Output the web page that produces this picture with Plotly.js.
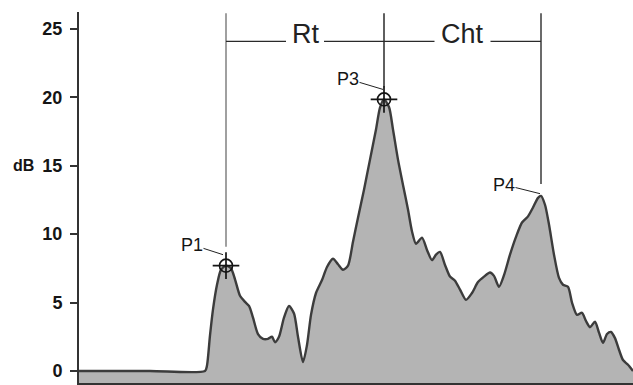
<!DOCTYPE html>
<html>
<head>
<meta charset="utf-8">
<script src="https://cdn.plot.ly/plotly-3.0.1.min.js"></script>
<style>
  html, body { margin: 0; padding: 0; background: #ffffff; }
  #chart { width: 633px; height: 385px; }
</style>
</head>
<body>
<div id="chart"></div>
<script>
// Envelope of the signal: time (ms) and level (dB)
const timeMs = [
  0, 35.5, 63, 64, 65.5, 67, 69, 71, 73.5, 76, 78, 80.5, 83, 85, 87, 89.5,
  92, 94.5, 96.5, 98, 100, 102.5, 105, 107.5, 109.5, 112, 114, 116, 118.5,
  121.5, 124, 127, 129.5, 132, 134.5, 137, 139.5, 142.5, 145.5, 148.5, 150.5,
  152.5, 155, 157, 159.5, 162, 164.5, 166.5, 168.5, 171.5, 174, 176.5, 178.5,
  180.5, 183, 185.5, 188, 190.5, 193.5, 196.5, 199.5, 202.5, 205.5, 207.5,
  210, 212.5, 215.5, 218.5, 221.5, 224.5, 227, 229.5, 231, 233, 235, 237.5,
  240, 242, 244.5, 246.5, 249, 251.5, 253.5, 255.5, 258, 260, 262, 264, 266,
  268, 270, 272, 274.5, 277
];
const levelDb = [
  0, 0, 0, 0.4, 2.6, 4.5, 6.3, 7.4, 7.7, 7.5, 6.7, 5.5, 5.05, 4.75, 3.9, 2.7,
  2.35, 2.35, 2.5, 2.1, 2.5, 3.9, 4.75, 4.2, 2.5, 0.65, 1.9, 4.1, 5.7,
  6.65, 7.6, 8.2, 7.8, 7.4, 7.7, 9.45, 11.2, 13.25, 15.45, 17.65, 19.25,
  19.85, 19.3, 17.65, 15.45, 13.6, 11.8, 10.2, 9.3, 9.75, 8.85, 8.1, 8.5,
  8.7, 7.75, 6.9, 6.6, 5.95, 5.2, 5.7, 6.5, 6.9, 7.2, 6.95,
  6.15, 7.0, 8.5, 9.8, 10.85, 11.3, 11.95, 12.65, 12.8, 12.15, 10.7, 8.5,
  6.8, 6.3, 6.15, 5.0, 4.1, 4.25, 3.65, 3.2, 3.6, 2.8, 2.05, 2.7, 2.85,
  2.4, 1.55, 0.8, 0.45, 0
];

// y-axis ticks
const tickValues = [0, 5, 10, 15, 20, 25];
const tickLabels = ['0', '5', '10', '15', '20', '25'];

// Marked peaks (time positions, looked up in the series)
const peakNames = ['P1', 'P3', 'P4'];
const peakTimes = [73.5, 152.5, 231];
const peakCrosshair = [true, true, false];

// Intervals between peaks
const spanNames = ['Rt', 'Cht'];
const spanFrom = ['P1', 'P3'];
const spanTo = ['P3', 'P4'];

function levelAt(t) {
  const i = timeMs.indexOf(t);
  return levelDb[i];
}
const peakLevels = peakTimes.map(levelAt);
const peakX = {};
peakNames.forEach((n, i) => { peakX[n] = peakTimes[i]; });

const lineCol = '#3c3c3c';
const inkCol = '#151515';
const fontFam = 'Liberation Sans, Arial, sans-serif';

// Floor under the filled area
const floorTrace = {
  x: [timeMs[0], timeMs[timeMs.length - 1]],
  y: [-5, -5],
  mode: 'lines',
  line: { width: 0 },
  hoverinfo: 'skip',
  showlegend: false
};

const envelopeTrace = {
  x: timeMs,
  y: levelDb,
  mode: 'lines',
  fill: 'tonexty',
  fillcolor: '#b4b4b4',
  line: { color: lineCol, width: 2.4, shape: 'spline', smoothing: 0.7 },
  showlegend: false
};

const crossX = peakTimes.filter((t, i) => peakCrosshair[i]);
const crossY = peakLevels.filter((v, i) => peakCrosshair[i]);

const ringTrace = {
  x: crossX, y: crossY, mode: 'markers',
  marker: { symbol: 'circle-open', size: 13, color: inkCol, line: { width: 1.7, color: inkCol } },
  showlegend: false, hoverinfo: 'skip'
};
const crossTrace = {
  x: crossX, y: crossY, mode: 'markers',
  marker: { symbol: 'cross-thin-open', size: 19, color: inkCol, line: { width: 1.7, color: inkCol } },
  showlegend: false, hoverinfo: 'skip'
};

// Vertical guide lines above each peak, and the bracket line with gaps for labels
const bracketY = 24.09;
const guideGap = [1.38, 0.87, 0.87];
const guideColors = ['#808080', '#2a2a2a', '#3a3a3a'];
const shapes = [];
peakNames.forEach((n, i) => {
  shapes.push({
    type: 'line', xref: 'x', yref: 'y',
    x0: peakTimes[i], x1: peakTimes[i],
    y0: peakLevels[i] + guideGap[i], y1: 26.15,
    line: { color: guideColors[i], width: 1.5 }
  });
});
const labelHalfGap = [9.5, 14];
spanNames.forEach((s, i) => {
  const a = peakX[spanFrom[i]], b = peakX[spanTo[i]];
  const mid = (a + b) / 2;
  shapes.push({ type: 'line', xref: 'x', yref: 'y', x0: a, x1: mid - labelHalfGap[i], y0: bracketY, y1: bracketY,
    line: { color: '#2a2a2a', width: 1.3 } });
  shapes.push({ type: 'line', xref: 'x', yref: 'y', x0: mid + labelHalfGap[i], x1: b, y0: bracketY, y1: bracketY,
    line: { color: '#2a2a2a', width: 1.3 } });
});

const annotations = [];
spanNames.forEach((s, i) => {
  const a = peakX[spanFrom[i]], b = peakX[spanTo[i]];
  annotations.push({
    x: (a + b) / 2, y: 24.64, xref: 'x', yref: 'y',
    text: s, showarrow: false, xanchor: 'center', yanchor: 'middle',
    font: { family: fontFam, size: 27, color: '#222222' }
  });
});

// Peak labels with leader lines (tip offset from peak, text offset in px)
const tipDx = [-1.5, -0.5, -0.5];
const tipDy = [0.8, 0.73, 0.16];
const textAx = [-31, -35, -36];
const textAy = [-10, -10.5, -9];
peakNames.forEach((n, i) => {
  annotations.push({
    x: peakTimes[i] + tipDx[i], y: peakLevels[i] + tipDy[i], xref: 'x', yref: 'y',
    text: n, showarrow: true, arrowhead: 0, arrowwidth: 1, arrowcolor: '#222222',
    ax: textAx[i], ay: textAy[i], standoff: 0, startstandoff: 0, borderpad: 0,
    font: { family: fontFam, size: 18, color: inkCol }
  });
});

// Axis unit label
annotations.push({
  xref: 'paper', yref: 'y', x: 0, y: 15, xshift: -68, xanchor: 'left', yanchor: 'middle',
  text: '<b>dB</b>', showarrow: false,
  font: { family: fontFam, size: 16, color: inkCol }
});

const layout = {
  width: 633, height: 385,
  margin: { l: 79, r: 0, t: 12, b: 2, pad: 0 },
  paper_bgcolor: '#ffffff', plot_bgcolor: '#ffffff',
  showlegend: false,
  xaxis: {
    range: [0, 277], showgrid: false, zeroline: false, showticklabels: false, ticks: '',
    showline: true, linecolor: '#333333', linewidth: 2, fixedrange: true
  },
  yaxis: {
    range: [-0.88, 26.24], showgrid: false, zeroline: false,
    tickmode: 'array', tickvals: tickValues, ticktext: tickLabels.map(t => '<b>' + t + '</b>'),
    ticks: 'outside', ticklen: 7, tickwidth: 2, tickcolor: '#333333',
    ticklabelstandoff: 4,
    tickfont: { family: fontFam, size: 18, color: inkCol },
    showline: true, linecolor: '#333333', linewidth: 2, fixedrange: true
  },
  shapes: shapes,
  annotations: annotations
};

Plotly.newPlot('chart', [floorTrace, envelopeTrace, ringTrace, crossTrace], layout,
  { staticPlot: true, displayModeBar: false });
</script>
</body>
</html>
